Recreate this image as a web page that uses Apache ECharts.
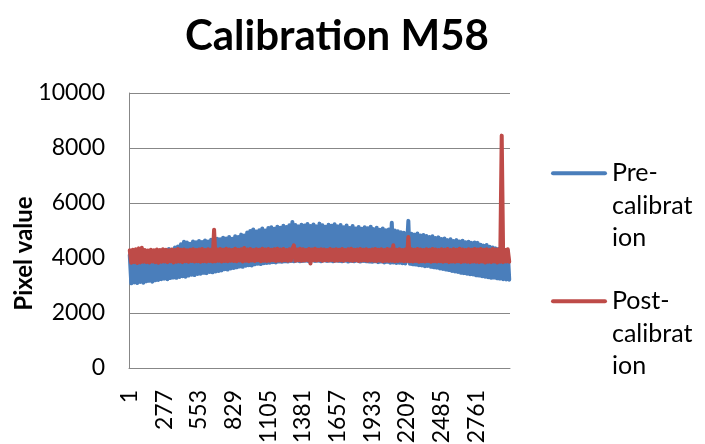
<!DOCTYPE html>
<html>
<head>
<meta charset="utf-8">
<script src="https://cdn.jsdelivr.net/npm/echarts@6.0.0/dist/echarts.min.js"></script>
<style>
  html, body { margin: 0; padding: 0; background: #ffffff; }
  #chart { width: 705px; height: 444px; }
</style>
</head>
<body>
<div id="chart"></div>
<script>
// Pixel samples along the detector row, one value every 12 pixels (pixel 1, 13, 25, ...)
const pixelStep = 12;

// Raw pixel values before calibration (one row per 276 pixels)
const preCalibration = [
  4110, 3080, 4150, 3110, 4080, 3090, 4170, 3130, 4120, 3100, 4190, 3150, 4160, 3170, 4220, 3140, 4180, 3190, 4250, 3200, 4210, 3230, 4270,
  3250, 4290, 3230, 4330, 3270, 4300, 3290, 4380, 3280, 4420, 3310, 4500, 3340, 4590, 3320, 4560, 3360, 4520, 3390, 4600, 3380, 4570, 3420,
  4620, 3430, 4580, 3460, 4640, 3450, 4600, 3490, 4660, 3480, 4620, 3510, 4700, 3530, 4680, 3550, 4740, 3590, 4710, 3580, 4760, 3620, 4700,
  3640, 4790, 3660, 4760, 3690, 4850, 3680, 4820, 3720, 4930, 3740, 4980, 3730, 5040, 3770, 4960, 3790, 5010, 3780, 5070, 3810, 5000, 3820,
  5090, 3830, 5120, 3850, 5060, 3840, 5140, 3870, 5100, 3860, 5170, 3880, 5130, 3870, 5190, 3890, 5310, 3880, 5200, 3900, 5150, 3880, 5210,
  3890, 5180, 3900, 5240, 3880, 5160, 3910, 5220, 3890, 5150, 3900, 5250, 3880, 5190, 3910, 5140, 3890, 5210, 3900, 5170, 3880, 5230, 3900,
  5150, 3890, 5200, 3880, 5120, 3900, 5180, 3870, 5090, 3890, 5160, 3880, 5070, 3900, 5130, 3870, 5060, 3890, 5120, 3880, 5080, 3870, 5140,
  3860, 5050, 3880, 5100, 3850, 5030, 3870, 5070, 3840, 5010, 3860, 5040, 3830, 5280, 3840, 5000, 3820, 4970, 3830, 4940, 3810, 4920, 3800,
  4350, 5350, 3790, 4880, 3770, 4850, 3760, 4890, 3740, 4820, 3730, 4840, 3700, 4800, 3710, 4760, 3680, 4790, 3660, 4730, 3650, 4750, 3620,
  4690, 3600, 4710, 3580, 4650, 3560, 4680, 3530, 4620, 3510, 4650, 3490, 4600, 3460, 4630, 3450, 4570, 3430, 4590, 3410, 4550, 3400, 4560,
  3370, 4550, 3360, 4480, 3340, 4450, 3320, 4470, 3300, 4410, 3280, 4380, 3290, 4350, 3260, 4330, 3250, 4300, 3230, 4280, 3220, 4260, 3210
];

// Pixel values after calibration (one row per 276 pixels)
const postCalibration = [
  4280, 3830, 4300, 3850, 4320, 3820, 4350, 3840, 4370, 3860, 4290, 3850, 4270, 3840, 4300, 3870, 4280, 3850, 4310, 3830, 4290, 3860, 4320,
  3870, 4300, 3850, 4280, 3880, 4310, 3840, 4290, 3860, 4330, 3870, 4300, 3850, 4310, 3880, 4280, 3860, 4300, 3890, 4320, 3870, 4290, 3880,
  4310, 3860, 4330, 3880, 4290, 3870, 4320, 3890, 4300, 3870, 5030, 3880, 4310, 3900, 4330, 3870, 4300, 3890, 4340, 3880, 4310, 3900, 4290,
  3890, 4340, 3880, 4300, 3910, 4320, 3870, 4360, 3900, 4310, 3880, 4330, 3910, 4290, 3890, 4320, 3920, 4300, 3880, 4340, 3900, 4310, 3890,
  4330, 3900, 4300, 3920, 4320, 3890, 4340, 3910, 4310, 3900, 4330, 3920, 4290, 3900, 4320, 3910, 4330, 4460, 3900, 4310, 3920, 4340, 3900,
  4320, 3910, 4290, 3930, 4330, 3800, 4310, 3920, 4340, 3910, 4300, 3930, 4320, 3900, 4310, 3920, 4290, 3910, 4330, 3930, 4300, 3900, 4320,
  3910, 4300, 3920, 4330, 3900, 4290, 3930, 4320, 3910, 4340, 3900, 4300, 3920, 4310, 3890, 4330, 3910, 4300, 3920, 4320, 3900, 4290, 3910,
  4310, 3900, 4330, 3890, 4300, 3910, 4320, 3880, 4290, 3900, 4330, 3890, 4310, 3900, 4460, 3880, 4300, 3890, 4320, 3900, 4290, 3880, 4310,
  3890, 4760, 3880, 4320, 3870, 4300, 3890, 4330, 3860, 4310, 3880, 4290, 3870, 4320, 3890, 4300, 3860, 4330, 3880, 4310, 3870, 4290, 3880,
  4320, 3860, 4300, 3880, 4330, 3850, 4290, 3870, 4320, 3860, 4300, 3880, 4340, 3850, 4310, 3870, 4290, 3860, 4320, 3850, 4300, 3870, 4330,
  3860, 4310, 3850, 4330, 3870, 4300, 3840, 4320, 3860, 4290, 3850, 4330, 3870, 4310, 3840, 4320, 3860, 8450, 3850, 4300, 3870, 4320, 3860
];

// Pixel numbers of the samples (category axis); every 23rd one is labelled
const pixelIndex = preCalibration.map((_, k) => String(1 + pixelStep * k));
const labelEvery = 23;

// Value axis ticks
const valueTicks = [0, 2000, 4000, 6000, 8000, 10000];

const seriesNames = ['Pre-calibration', 'Post-calibration'];
// Legend labels wrap like the narrow legend box; the two leading blank lines
// keep the first text line level with the legend line.
const legendText = {
  'Pre-calibration': '\n\nPre-\ncalibrat\nion',
  'Post-calibration': '\n\nPost-\ncalibrat\nion'
};

const FONT = 'Lato, "Open Sans", sans-serif';
const GRID_GRAY = '#878787';
const BLUE = '#4A7EBB';
const RED = '#BE4B48';
const roundLine = 'path://M2,0 H54 A2,2 0 0 1 54,4 H2 A2,2 0 0 1 2,0 Z';

function legendFor(name, top) {
  return {
    data: [name],
    orient: 'vertical',
    left: 551,
    top: top,
    padding: 0,
    icon: roundLine,
    itemWidth: 56,
    itemHeight: 4,
    selectedMode: false,
    formatter: n => legendText[n],
    textStyle: {
      fontFamily: FONT,
      fontSize: 25,
      lineHeight: 32.5,
      color: '#000000'
    }
  };
}

const chart = echarts.init(document.getElementById('chart'), null, { renderer: 'canvas' });

chart.setOption({
  animation: false,
  backgroundColor: '#ffffff',
  title: {
    text: 'Calibration M58',
    left: 185,
    top: 15,
    padding: 0,
    textStyle: {
      fontFamily: FONT,
      fontWeight: 'bold',
      fontSize: 42,
      color: '#000000'
    }
  },
  legend: [legendFor(seriesNames[0], 92), legendFor(seriesNames[1], 220)],
  grid: {
    left: 129, top: 93, width: 381, height: 275,
    containLabel: false,
    outerBoundsMode: 'none'
  },
  xAxis: {
    type: 'category',
    data: pixelIndex,
    boundaryGap: true,
    axisLine: { show: true, lineStyle: { color: GRID_GRAY, width: 1 } },
    axisTick: { show: false },
    splitLine: { show: false },
    axisLabel: {
      interval: labelEvery - 1,
      rotate: 90,
      margin: 22,
      fontFamily: FONT,
      fontSize: 23,
      color: '#000000'
    }
  },
  yAxis: {
    type: 'value',
    min: valueTicks[0],
    max: valueTicks[valueTicks.length - 1],
    interval: valueTicks[1] - valueTicks[0],
    axisLine: { show: true, lineStyle: { color: GRID_GRAY, width: 1 } },
    axisTick: { show: false },
    splitLine: { show: true, lineStyle: { color: GRID_GRAY, width: 1 } },
    axisLabel: {
      margin: 24,
      fontFamily: FONT,
      fontSize: 23,
      color: '#000000',
      formatter: v => String(v)
    },
    name: 'Pixel value',
    nameLocation: 'middle',
    nameRotate: 90,
    nameGap: 93,
    nameMoveOverlap: false,
    nameTextStyle: {
      fontFamily: FONT,
      fontWeight: 'bold',
      fontSize: 24,
      color: '#000000',
      padding: [0, 46, 0, 0]
    }
  },
  series: [
    {
      name: seriesNames[0],
      type: 'line',
      data: preCalibration,
      symbol: 'none',
      z: 2,
      itemStyle: { color: BLUE },
      lineStyle: { color: BLUE, width: 4, cap: 'round', join: 'round' }
    },
    {
      name: seriesNames[1],
      type: 'line',
      data: postCalibration,
      symbol: 'none',
      z: 3,
      itemStyle: { color: RED },
      lineStyle: { color: RED, width: 4, cap: 'round', join: 'round' }
    }
  ]
});
</script>
</body>
</html>
